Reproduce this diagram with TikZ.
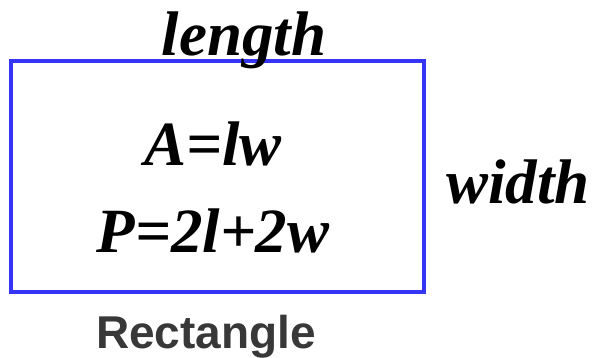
\documentclass[tikz,border=0pt]{standalone}
\usepackage{fontspec}
\setmainfont{Liberation Serif}
\newfontfamily\labelfont{Liberation Sans}
\usepackage{xcolor}
\definecolor{rectBlue}{HTML}{3535F5}
\definecolor{capGray}{HTML}{383838}
\tikzset{
    shapeline/.style={draw=rectBlue, line width=3.6pt},
    formula/.style={anchor=base, inner sep=0pt,
                    font=\fontsize{63}{72}\selectfont\bfseries\itshape},
    dimlabel/.style={formula},
    caption/.style={anchor=base, inner sep=0pt, text=capGray,
                    font=\fontsize{46}{52}\selectfont\labelfont\bfseries},
}

\begin{document}
\begin{tikzpicture}[x=1pt, y=-1pt]
    \useasboundingbox (0,0) rectangle (594,357);
    \draw[shapeline] (11,61) rectangle (424,292);
    \node[dimlabel] (len) at (244,55) {length};
    \node[dimlabel] (wid) at (518,203) {width};
    \node[formula] (area) at (213,165) {A=lw};
    \node[formula] (perim) at (213,252) {P=2l+2w};
    \node[caption] (name) at (206,348) {Rectangle};
\end{tikzpicture}
\end{document}
